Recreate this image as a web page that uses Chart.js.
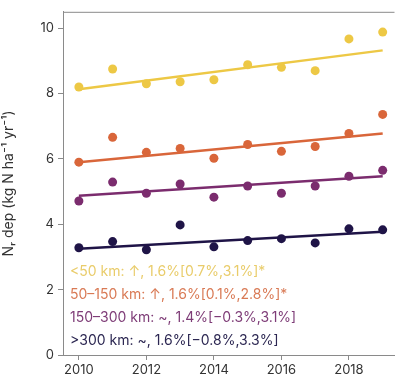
<!DOCTYPE html>
<html>
<head>
<meta charset="utf-8">
<script src="https://cdn.jsdelivr.net/npm/chart.js@4.4.1/dist/chart.umd.min.js"></script>
<style>
  html, body { margin: 0; padding: 0; background: #fff; }
  #wrap { width: 399px; height: 381px; }
</style>
</head>
<body>
<div id="wrap"><canvas id="depChart"></canvas></div>
<script>
const years = [2010, 2011, 2012, 2013, 2014, 2015, 2016, 2017, 2018, 2019];
const near50 = [8.2, 8.75, 8.3, 8.36, 8.42, 8.88, 8.8, 8.7, 9.67, 9.88];
const mid150 = [5.9, 6.66, 6.2, 6.32, 6.02, 6.44, 6.23, 6.38, 6.78, 7.36];
const mid300 = [4.71, 5.29, 4.95, 5.23, 4.83, 5.17, 4.95, 5.17, 5.47, 5.65];
const far300 = [3.28, 3.47, 3.22, 3.98, 3.31, 3.5, 3.56, 3.43, 3.86, 3.83];
// trend line ends (2010, 2019)
const trend50 = [8.13, 9.32];
const trend150 = [5.9, 6.78];
const trend300 = [4.87, 5.47];
const trendFar = [3.25, 3.77];
const yTicks = [0, 2, 4, 6, 8, 10];
const xTicks = [2010, 2012, 2014, 2016, 2018];
const notes = [
    '<50 km: \u2191, 1.6%[0.7%,3.1%]*',
    '50\u2013150 km: \u2191, 1.6%[0.1%,2.8%]*',
    '150\u2013300 km: ~, 1.4%[\u22120.3%,3.1%]',
    '>300 km: ~, 1.6%[\u22120.8%,3.3%]'
];

const colors = ['#edc845', '#d9663a', '#7b2c6e', '#1f1447'];
const noteColors = ['#e9cc6a', '#d97a55', '#7e3c77', '#2c2752'];

const series = [near50, mid150, mid300, far300];
const trends = [trend50, trend150, trend300, trendFar];

const datasets = [];
series.forEach((vals, i) => {
    datasets.push({
        type: 'scatter',
        data: years.map((yr, j) => ({ x: yr, y: vals[j] })),
        backgroundColor: colors[i],
        borderWidth: 0,
        pointRadius: 4.5,
        order: 1
    });
    datasets.push({
        type: 'line',
        data: [{ x: years[0], y: trends[i][0] }, { x: years[years.length - 1], y: trends[i][1] }],
        borderColor: colors[i],
        borderWidth: 2.5,
        pointRadius: 0,
        fill: false,
        order: 2
    });
});

const frameTop = {
    id: 'frameTop',
    afterDraw(chart) {
        const { ctx, chartArea } = chart;
        ctx.save();
        ctx.strokeStyle = '#8a8a8a';
        ctx.lineWidth = 1;
        ctx.beginPath();
        ctx.moveTo(chartArea.left, chartArea.top + 0.5);
        ctx.lineTo(chartArea.right, chartArea.top + 0.5);
        ctx.stroke();
        // trend notes
        ctx.font = '14px Inter, "Noto Sans", sans-serif';
        ctx.textBaseline = 'middle';
        notes.forEach((t, i) => {
            ctx.fillStyle = noteColors[i];
            ctx.fillText(t, 70, 272 + i * 23);
        });
        ctx.restore();
    }
};

const ctx = document.getElementById('depChart').getContext('2d');
new Chart(ctx, {
    data: { datasets },
    options: {
        responsive: true,
        maintainAspectRatio: false,
        animation: false,
        layout: { padding: { top: 10, right: 0, bottom: 0, left: 0 } },
        plugins: { legend: { display: false }, tooltip: { enabled: false } },
        scales: {
            x: {
                type: 'linear',
                min: 2009.53,
                max: 2019.35,
                afterBuildTicks: s => { s.ticks = xTicks.map(v => ({ value: v })); },
                afterFit: s => { s.height = 26; },
                grid: { drawOnChartArea: false, tickLength: 5, color: '#8a8a8a' },
                border: { color: '#8a8a8a' },
                ticks: {
                    color: '#333',
                    font: { family: 'Inter', size: 13 },
                    padding: 2,
                    maxRotation: 0,
                    callback: v => String(v)
                }
            },
            y: {
                min: 0,
                max: 10.5,
                afterBuildTicks: s => { s.ticks = yTicks.map(v => ({ value: v })); },
                afterFit: s => { s.width = 63; },
                grid: { drawOnChartArea: false, tickLength: 5, color: '#8a8a8a' },
                border: { color: '#8a8a8a' },
                title: {
                    display: true,
                    text: 'N\u1d63 dep (kg N ha\u207b\u00b9 yr\u207b\u00b9)',
                    color: '#333',
                    font: { family: 'Inter', size: 14 },
                    padding: { top: 0, bottom: 4 }
                },
                ticks: {
                    color: '#333',
                    font: { family: 'Inter', size: 13 },
                    padding: 4
                }
            }
        }
    },
    plugins: [frameTop]
});
</script>
</body>
</html>
